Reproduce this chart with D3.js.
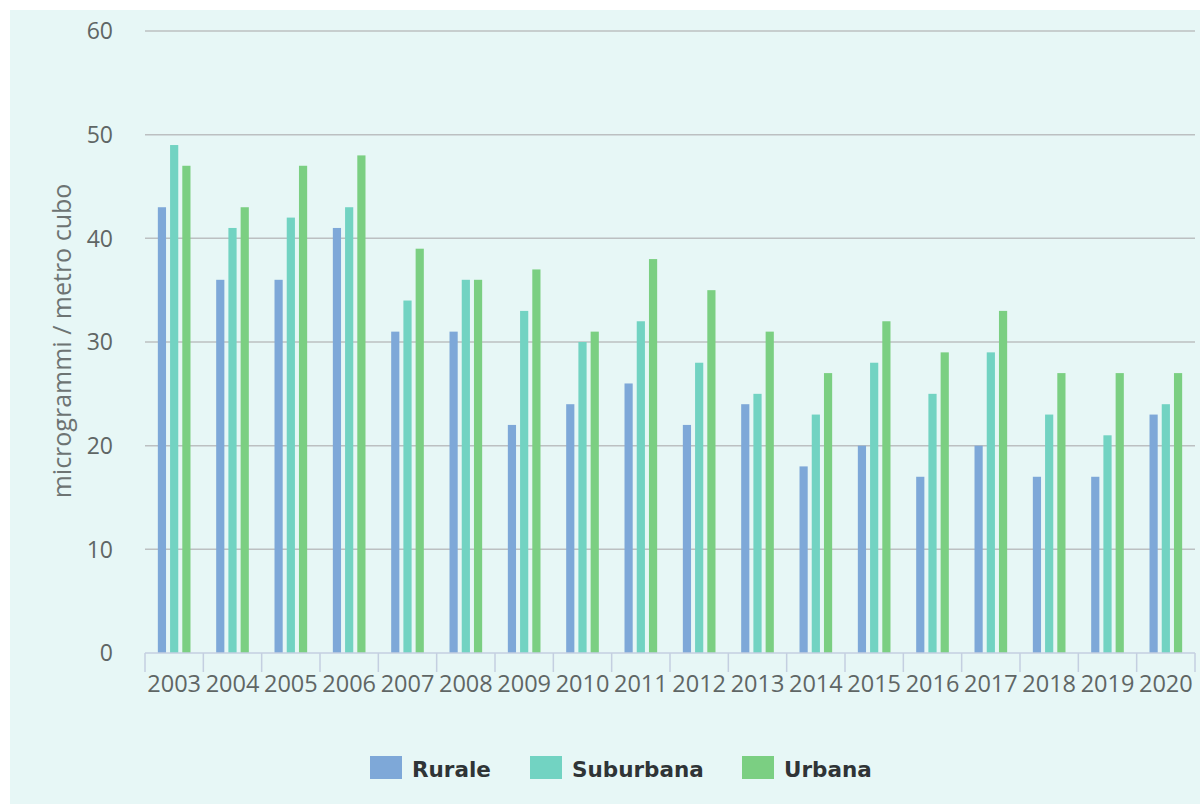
<!DOCTYPE html>
<html>
<head>
<meta charset="utf-8">
<script src="https://cdn.jsdelivr.net/npm/d3@7"></script>
<style>
  body { margin: 0; background: #fff; }
  svg { display: block; }
</style>
</head>
<body>
<svg></svg>
<script>
// data
const years = ["2003","2004","2005","2006","2007","2008","2009","2010","2011","2012","2013","2014","2015","2016","2017","2018","2019","2020"];
const seriesNames = ["Rurale", "Suburbana", "Urbana"];
const rurale    = [43, 36, 36, 41, 31, 31, 22, 24, 26, 22, 24, 18, 20, 17, 20, 17, 17, 23];
const suburbana = [49, 41, 42, 43, 34, 36, 33, 30, 32, 28, 25, 23, 28, 25, 29, 23, 21, 24];
const urbana    = [47, 43, 47, 48, 39, 36, 37, 31, 38, 35, 31, 27, 32, 29, 33, 27, 27, 27];
const yTicks = [0, 10, 20, 30, 40, 50, 60];
const colors = ["#7ea8d8", "#72d3c2", "#7bcf82"];

const width = 1203, height = 807;
const margin = {top: 31, right: 8, bottom: 154, left: 145};

var svg = d3.select("svg")
    .attr("width", width)
    .attr("height", height);

// panel background
svg.append("rect")
    .attr("x", 10).attr("y", 10)
    .attr("width", width - 13).attr("height", height - 13)
    .attr("fill", "#e7f7f6");

var x = d3.scaleBand()
    .domain(years)
    .range([margin.left, width - margin.right]);

var y = d3.scaleLinear()
    .domain([0, 60])
    .range([height - margin.bottom, margin.top]);

var x1 = d3.scaleBand()
    .domain(seriesNames)
    .range([0, x.bandwidth()])
    .paddingInner(0.33)
    .paddingOuter(1.05);

// grid lines
svg.append("g")
  .selectAll("line")
  .data(yTicks.filter(d => d > 0))
  .enter().append("line")
    .attr("x1", margin.left)
    .attr("x2", width - margin.right)
    .attr("y1", d => y(d))
    .attr("y2", d => y(d))
    .attr("stroke", "#bcc0c1")
    .attr("stroke-width", 1.5);

// y labels
svg.append("g")
  .selectAll("text")
  .data(yTicks)
  .enter().append("text")
    .attr("x", 113)
    .attr("y", d => y(d))
    .attr("dy", "0.36em")
    .attr("text-anchor", "end")
    .attr("font-family", "Open Sans, sans-serif")
    .attr("font-size", 23)
    .attr("fill", "#5f6665")
    .text(d => d);

// y title
svg.append("text")
    .attr("transform", "translate(71,341) rotate(-90)")
    .attr("text-anchor", "middle")
    .attr("font-family", "Open Sans, sans-serif")
    .attr("font-size", 25)
    .attr("fill", "#6d7473")
    .text("microgrammi / metro cubo");

// bars
var table = years.map((yr, i) => ({
  year: yr,
  values: [rurale[i], suburbana[i], urbana[i]].map((v, k) => ({name: seriesNames[k], value: v, color: colors[k]}))
}));

svg.append("g")
  .selectAll("g")
  .data(table)
  .enter().append("g")
    .attr("transform", d => "translate(" + x(d.year) + ",0)")
  .selectAll("rect")
  .data(d => d.values)
  .enter().append("rect")
    .attr("x", d => x1(d.name))
    .attr("width", x1.bandwidth())
    .attr("y", d => y(d.value))
    .attr("height", d => y(0) - y(d.value))
    .attr("fill", d => d.color);

// x axis
var xAxisY = y(0);
svg.append("line")
    .attr("x1", margin.left).attr("x2", width - margin.right)
    .attr("y1", xAxisY).attr("y2", xAxisY)
    .attr("stroke", "#c4cfe0").attr("stroke-width", 1.5);

var tickPos = years.map(d => x(d)).concat([x(years[years.length - 1]) + x.step()]);
svg.append("g")
  .selectAll("line")
  .data(tickPos)
  .enter().append("line")
    .attr("x1", d => d).attr("x2", d => d)
    .attr("y1", xAxisY).attr("y2", xAxisY + 19)
    .attr("stroke", "#c4cfe0").attr("stroke-width", 1.5);

svg.append("g")
  .selectAll("text")
  .data(years)
  .enter().append("text")
    .attr("x", d => x(d) + x.bandwidth() / 2)
    .attr("y", xAxisY + 39)
    .attr("text-anchor", "middle")
    .attr("font-family", "Open Sans, sans-serif")
    .attr("font-size", 23.5)
    .attr("fill", "#5f6665")
    .text(d => d);

// legend
var legendX = [370, 530, 742];
var legend = svg.append("g")
  .selectAll("g")
  .data(seriesNames)
  .enter().append("g")
    .attr("transform", (d, i) => "translate(" + legendX[i] + ",756)");

legend.append("rect")
    .attr("width", 32).attr("height", 23)
    .attr("fill", (d, i) => colors[i]);

legend.append("text")
    .attr("x", 42)
    .attr("y", 21)
    .attr("font-family", "DejaVu Sans, sans-serif")
    .attr("font-weight", "bold")
    .attr("font-size", 21.5)
    .attr("fill", "#2f3436")
    .text(d => d);
</script>
</body>
</html>
